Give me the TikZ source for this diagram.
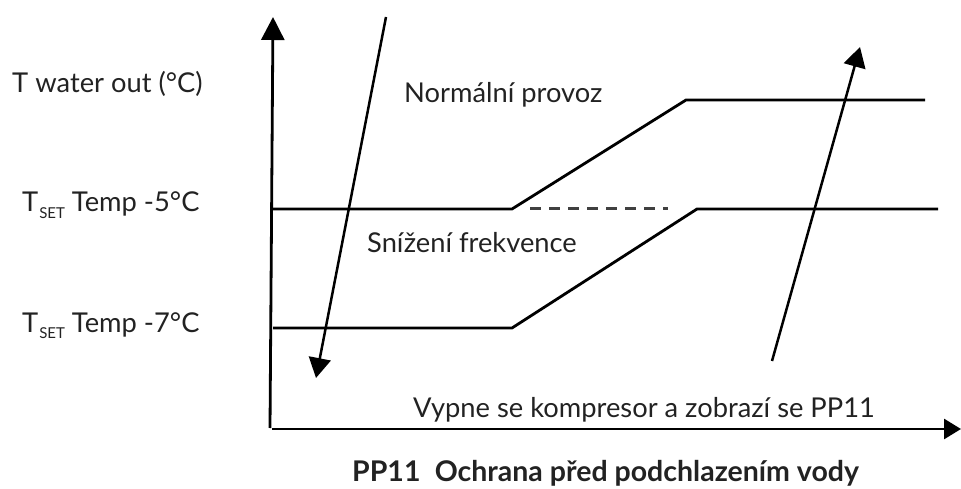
\documentclass[tikz,border=0pt]{standalone}
\usepackage{fontspec}
\setmainfont{Lato}
\usetikzlibrary{arrows.meta}
\definecolor{txt}{HTML}{222222}
\tikzset{
  lbl/.style={anchor=base west, inner sep=0pt, text=txt, font=\fontsize{27.3}{32}\selectfont},
  ttl/.style={anchor=base west, inner sep=0pt, text=txt, font=\fontsize{28.5}{33}\selectfont\bfseries},
  curve/.style={line width=2.8pt, black, line join=miter},
  axis/.style={line width=2.8pt, black, -{Triangle[width=23pt,length=23pt]}},
  flow/.style={line width=2.5pt, black, -{Triangle[width=22pt,length=20pt]}},
}
\newcommand{\tset}{T\kern1pt\raisebox{-6pt}{\fontsize{15}{16}\selectfont SET}}
\begin{document}
\begin{tikzpicture}[x=1pt,y=-1pt]
\useasboundingbox (0,0) rectangle (961,489);
% coordinates
\coordinate (o1) at (270,428);
\coordinate (ytip) at (273,17);
\coordinate (o2) at (272,429);
\coordinate (xtip) at (961,429);
\coordinate (u0) at (273,209);
\coordinate (u1) at (512,209);
\coordinate (u2) at (686,100);
\coordinate (u3) at (925,100);
\coordinate (d0) at (530,209);
\coordinate (d1) at (668,209);
\coordinate (l0) at (273,328);
\coordinate (l1) at (512,328);
\coordinate (l2) at (697,209);
\coordinate (l3) at (938,209);
\coordinate (a0) at (386,17);
\coordinate (a1) at (316,378);
\coordinate (b0) at (772,361);
\coordinate (b1) at (860,47);
% axes
\draw[axis] (o1) -- (ytip);
\draw[axis, -{Triangle[width=20pt,length=17pt]}] (o2) -- (xtip);
% curves
\draw[curve] (u0) -- (u1) -- (u2) -- (u3);
\draw[curve, dash pattern=on 11pt off 8pt, line width=3pt, black!75] (d0) -- (d1);
\draw[curve] (l0) -- (l1) -- (l2) -- (l3);
% arrows
\draw[flow] (a0) -- (a1);
\draw[flow] (b0) -- (b1);
% labels
\node[lbl] (t1) at (12,93) {T water out (°C)};
\node[lbl] (t2) at (22,212) {\tset{} Temp -5°C};
\node[lbl] (t3) at (22,332) {\tset{} Temp -7°C};
\node[lbl] (t4) at (404,103) {Normální provoz};
\node[lbl] (t5) at (367,252) {Snížení frekvence};
\node[lbl] (t6) at (413,417) {Vypne se kompresor a zobrazí se PP11};
\node[ttl] (t7) at (352,481) {PP11\hspace{0.5em}Ochrana před podchlazením vody};
\end{tikzpicture}
\end{document}
